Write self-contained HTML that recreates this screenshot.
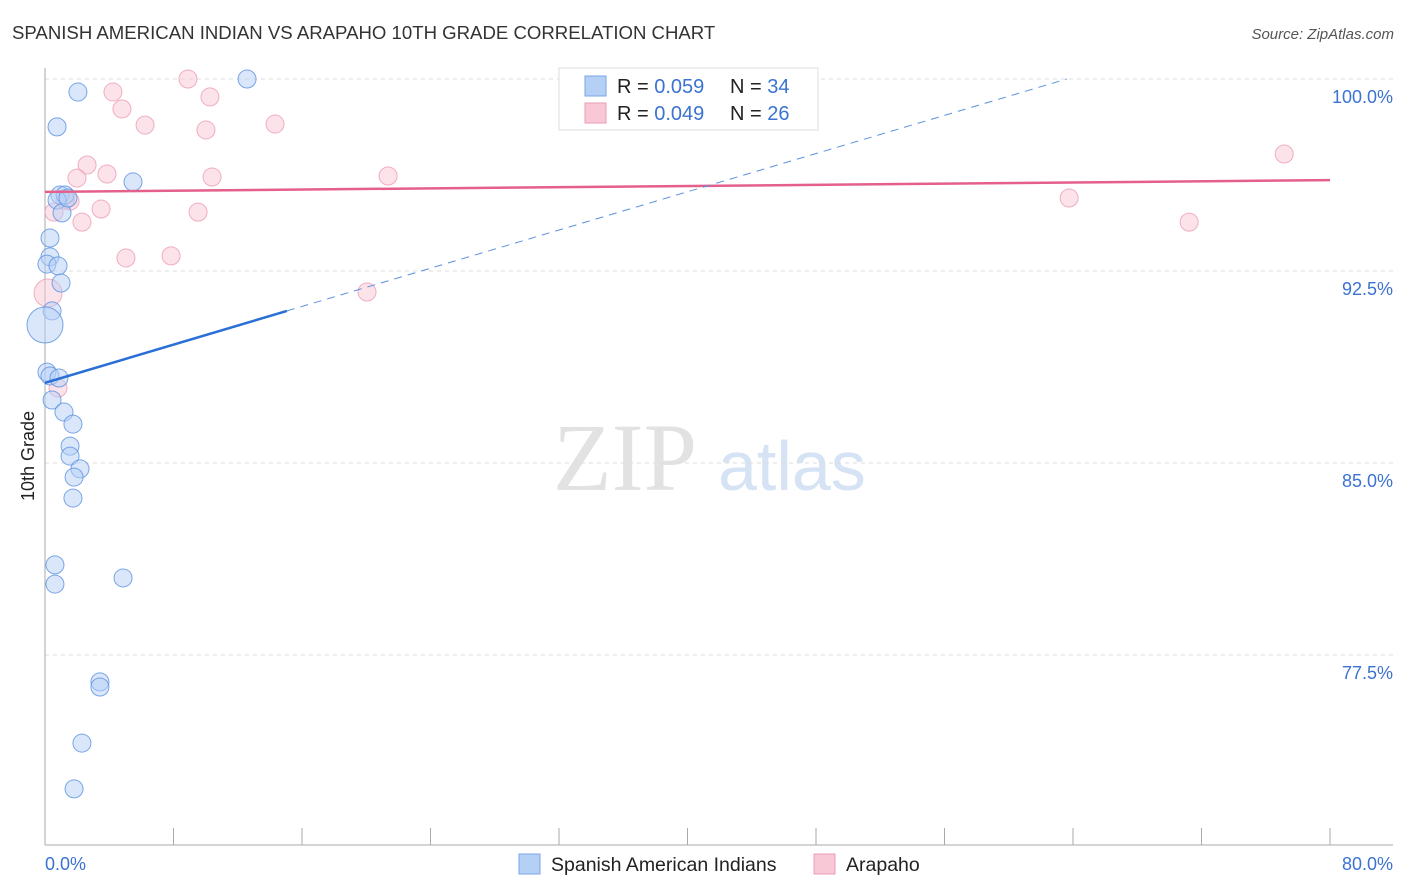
<!DOCTYPE html>
<html><head><meta charset="utf-8"><style>
body{margin:0;background:#fff;font-family:"Liberation Sans",sans-serif;}
#wrap{position:relative;width:1406px;height:892px;overflow:hidden}
</style></head><body>
<div id="wrap">
<svg id="svg" width="1406" height="892" xmlns="http://www.w3.org/2000/svg">
<text x="12" y="39" font-size="18.6" fill="#333">SPANISH AMERICAN INDIAN VS ARAPAHO 10TH GRADE CORRELATION CHART</text>
<text x="1394" y="39" font-size="15" fill="#555" text-anchor="end" font-style="italic">Source: ZipAtlas.com</text>
<text x="34" y="456" font-size="18" fill="#222" text-anchor="middle" transform="rotate(-90 34 456)">10th Grade</text>
<g><text x="553" y="490" font-size="96" fill="#e2e2e2" font-family="Liberation Serif,serif">ZIP</text><text x="718" y="490" font-size="70" fill="#d6e3f5">atlas</text></g>
<g id="grid"></g><g id="marks"></g>
<g>
<rect x="559" y="68" width="259" height="62" fill="#fff" stroke="#ddd"/>
<rect x="585" y="76" width="21" height="20" fill="#b5d0f5" stroke="#7aa5e6"/>
<rect x="585" y="103" width="21" height="20" fill="#f9c8d6" stroke="#ec9cb5"/>
<text x="617" y="93" font-size="20" fill="#222">R = <tspan fill="#3b73d1">0.059</tspan><tspan x="730">N = </tspan><tspan fill="#3b73d1">34</tspan></text>
<text x="617" y="120" font-size="20" fill="#222">R = <tspan fill="#3b73d1">0.049</tspan><tspan x="730">N = </tspan><tspan fill="#3b73d1">26</tspan></text>
</g>
<g>
<rect x="519" y="854" width="21" height="20" fill="#b5d0f5" stroke="#7aa5e6"/>
<text x="551" y="871" font-size="19.5" fill="#222">Spanish American Indians</text>
<rect x="814" y="854" width="21" height="20" fill="#f9c8d6" stroke="#ec9cb5"/>
<text x="846" y="871" font-size="19.5" fill="#222">Arapaho</text>
</g>
</svg>
</div>
<script>
const xTickLabels=["0.0%","80.0%"];
const yTicks=[100,92.5,85,77.5];
const yTickLabels=["100.0%","92.5%","85.0%","77.5%"];
const blueX=[2.05,0.75,5.48,0.93,1.25,0.75,1.06,0.31,0.31,0.12,0.81,1.0,0.44,0.0,0.12,0.31,0.87,0.44,1.18,1.74,1.56,1.56,2.18,1.81,1.74,0.62,0.62,4.86,3.42,3.42,2.30,1.81,12.58,1.43];
const blueY=[99.49,98.13,95.98,95.47,95.47,95.27,94.77,93.79,93.05,92.77,92.70,92.03,90.94,90.39,88.55,88.40,88.32,87.46,86.99,86.52,85.66,85.27,84.77,84.45,83.63,81.02,80.27,80.51,76.45,76.25,74.06,72.27,100.0,95.35];
const pinkX=[8.9,4.23,10.27,4.79,6.23,10.02,14.32,2.62,1.99,3.86,10.4,21.36,1.56,0.56,3.49,2.30,9.53,5.04,7.85,20.05,0.19,0.81,63.76,71.23,77.15,1.25];
const pinkY=[100,99.49,99.30,98.83,98.20,98.01,98.24,96.64,96.13,96.29,96.17,96.21,95.23,94.80,94.92,94.41,94.80,93.01,93.09,91.68,91.64,87.93,95.35,94.41,97.07,95.27];
const blueTrend=[88.13,0.1866];
const pinkTrend=[95.59,0.00575];
const NS="http://www.w3.org/2000/svg";
const X=v=>45+v*(1285/80), Y=v=>79+(100-v)*25.6;
function mk(t,a,p){const e=document.createElementNS(NS,t);for(const k in a)e.setAttribute(k,a[k]);p.appendChild(e);return e;}
const grid=document.getElementById('grid'),marks=document.getElementById('marks');
yTicks.forEach((t,i)=>{
 const l=mk('line',{x1:45,x2:1393,y1:Y(t),y2:Y(t),stroke:'#ddd','stroke-dasharray':'4 4'},grid);
 
 
 const tx=mk('text',{x:1393,y:Y(t)+24,'font-size':18,fill:'#3b73d1','text-anchor':'end'},grid);tx.textContent=yTickLabels[i];
 
 
});
mk('line',{x1:45,x2:45,y1:68,y2:845,stroke:'#aaa'},grid);
mk('line',{x1:45,x2:1393,y1:845,y2:845,stroke:'#aaa'},grid);
for(let i=0;i<=10;i++){const t=mk('line',{x1:X(i*8),x2:X(i*8),y1:828,y2:845,stroke:'#aaa'},grid);
 
 }
[[0,45,'start'],[80,1393,'end']].forEach((d,i)=>{const t=mk('text',{x:d[1],y:870,'font-size':18,fill:'#3b73d1','text-anchor':d[2]},grid);t.textContent=xTickLabels[i];
 
 });
function pts(xs,ys,fill,stroke,name,big){xs.forEach((x,i)=>{
 const r=big[i]||9;
 const c=mk('circle',{cx:X(x),cy:Y(ys[i]),r:r,fill:fill,'fill-opacity':0.5,stroke:stroke,'stroke-opacity':0.8,'stroke-width':1},marks);
 
 
});}
pts(pinkX,pinkY,'#f9c8d6','#ec9cb5','arapaho-point',{20:14});
pts(blueX,blueY,'#b5d0f5','#5b91e0','spanish-american-indian-point',{13:18});
const pl=mk('line',{x1:X(0),y1:Y(pinkTrend[0]),x2:X(80),y2:Y(pinkTrend[0]+80*pinkTrend[1]),stroke:'#e4608a','stroke-width':2.5},marks);


const bEnd=15.06, bMax=(100-blueTrend[0])/blueTrend[1];
const bl=mk('line',{x1:X(0),y1:Y(blueTrend[0]),x2:X(bEnd),y2:Y(blueTrend[0]+bEnd*blueTrend[1]),stroke:'#2a6fd6','stroke-width':2.5},marks);


const bd=mk('line',{x1:X(bEnd),y1:Y(blueTrend[0]+bEnd*blueTrend[1]),x2:X(bMax),y2:Y(100),stroke:'#5b91e0','stroke-width':1,'stroke-dasharray':'8 6'},marks);


</script>
</body></html>
